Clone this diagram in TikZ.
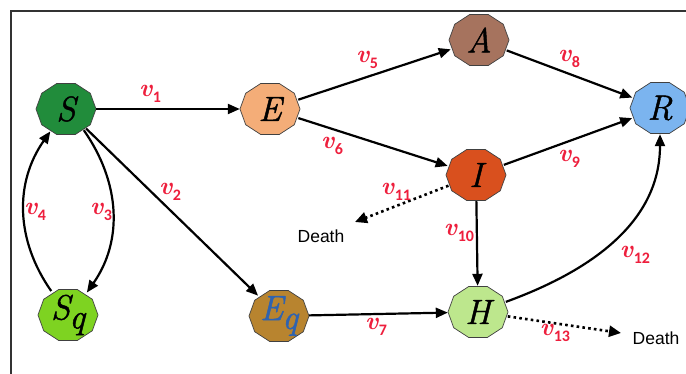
\documentclass[tikz,border=0pt]{standalone}
\usepackage{fontspec}
\usetikzlibrary{shapes.geometric,arrows.meta}
\newfontfamily\sansf{Liberation Sans}
\newfontfamily\subf{Carlito}
\newfontfamily\nodef{Latin Modern Roman}[FakeBold=1.3]
\definecolor{cS}{HTML}{218C3B}
\definecolor{cE}{HTML}{F4AD78}
\definecolor{cA}{HTML}{A6735E}
\definecolor{cR}{HTML}{7BB4EF}
\definecolor{cI}{HTML}{D9501E}
\definecolor{cSq}{HTML}{7ED321}
\definecolor{cEq}{HTML}{B8842F}
\definecolor{cH}{HTML}{BDE78D}
\definecolor{eqblue}{HTML}{2F63B0}
\definecolor{labred}{HTML}{EE1F3D}
\definecolor{frame}{HTML}{333333}
\pgfdeclarelayer{bg}
\pgfsetlayers{bg,main}
\newcommand\deca[2]{\begin{scope}[shift={(#1.center)}]\filldraw[fill=#2, draw=black!75, line width=0.7pt] (0:30pt and 26.8pt) \foreach \a in {36,72,...,324}{ -- (\a:30pt and 26.8pt)} -- cycle;\end{scope}}
\newcommand\vlab[1]{{\bfseries\itshape v}\kern0.5pt\raisebox{-6pt}{\subf\fontsize{16}{16}\selectfont\bfseries #1}}
\newcommand\subq{\kern-1pt\raisebox{-9pt}{q}}
\tikzset{
  st/.style={ellipse, inner sep=0pt, minimum width=60pt, minimum height=52pt, font=\nodef\fontsize{35}{35}\selectfont\itshape},
  ar/.style={line width=2.2pt, -{Triangle[length=12pt,width=10pt]}},
  dar/.style={line width=2.6pt, dash pattern=on 2.6pt off 3.2pt, -{Triangle[length=12pt,width=11pt]}},
  lab/.style={text=labred, inner sep=0pt, font=\fontsize{25}{25}\selectfont},
  dth/.style={font=\sansf\fontsize{17.5}{17.5}\selectfont, inner sep=0pt}
}
\begin{document}
\begin{tikzpicture}[x=1pt,y=1pt]
\useasboundingbox (0,0) rectangle (686,-374);
\draw[frame, line width=2pt] (11,-380) -- (11,-11) -- (690,-11);
% nodes
\node[st] (S) at (66,-109) {S};
\node[st] (E) at (270,-109) {E};
\node[st] (A) at (479,-40) {A};
\node[st] (R) at (660,-108) {R};
\node[st] (I) at (476,-175) {I};
\node[st] (Sq) at (68,-315) {S\subq};
\node[st, text=eqblue] (Eq) at (279,-316) {E\subq};
\node[st] (H) at (478,-312) {H};
\begin{pgfonlayer}{bg}
\fill[white] (0,0) rectangle (686,-374);
\deca{S}{cS}\deca{E}{cE}\deca{A}{cA}\deca{R}{cR}\deca{I}{cI}\deca{Sq}{cSq}\deca{Eq}{cEq}\deca{H}{cH}
\end{pgfonlayer}
\node[dth] (D1) at (321,-236) {Death};
\node[dth] (D2) at (656,-338) {Death};
\coordinate (d1) at (355,-222);
\coordinate (d2) at (621,-333);
% edges
\draw[ar] (S) -- (E);
\draw[ar] (S) -- (Eq);
\draw[ar] (S.-50) to[out=-55,in=55] (Sq.50);
\draw[ar] (Sq.125) to[out=125,in=-125] (S.-125);
\draw[ar] (E) -- (A);
\draw[ar] (E) -- (I);
\draw[ar] (A) -- (R);
\draw[ar] (I) -- (R);
\draw[ar] (I) -- (H);
\draw[ar] (Eq) -- (H);
\draw[ar] (H.20) to[out=20,in=-90] (R.south);
\draw[dar] (I) -- (d1);
\draw[dar] (H) -- (d2);
% labels
\node[lab] (l1) at (150,-94) {\vlab{1}};
\node[lab] (l2) at (170,-192) {\vlab{2}};
\node[lab] (l3) at (101,-212) {\vlab{3}};
\node[lab] (l4) at (35,-212) {\vlab{4}};
\node[lab] (l5) at (367,-60) {\vlab{5}};
\node[lab] (l6) at (332,-146) {\vlab{6}};
\node[lab] (l7) at (376,-327) {\vlab{7}};
\node[lab] (l8) at (569,-59) {\vlab{8}};
\node[lab] (l9) at (569,-159) {\vlab{9}};
\node[lab] (l10) at (459,-233) {\vlab{10}};
\node[lab] (l11) at (396,-192) {\vlab{11}};
\node[lab] (l12) at (635,-255) {\vlab{12}};
\node[lab] (l13) at (555,-333) {\vlab{13}};
\end{tikzpicture}
\end{document}
